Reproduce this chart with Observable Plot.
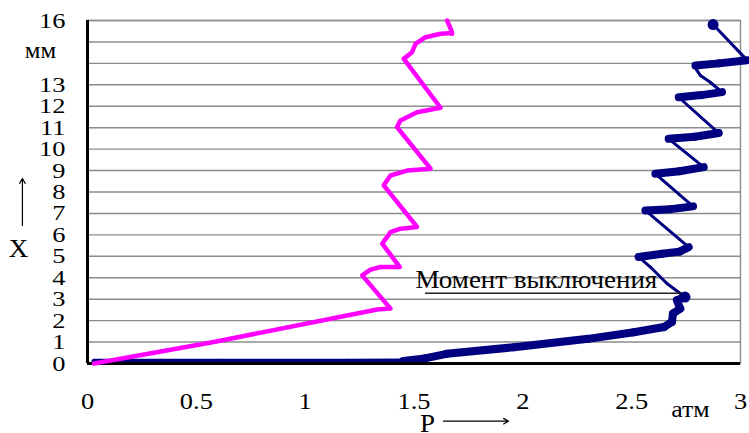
<!DOCTYPE html>
<html><head><meta charset="utf-8">
<script src="https://cdn.jsdelivr.net/npm/d3@7"></script>
<script src="https://cdn.jsdelivr.net/npm/@observablehq/plot@0.6"></script>
<style>body{margin:0;background:#fff}</style>
</head><body><div id="chart"></div>
<script>
// Magenta curve: pressure P (атм) vs displacement X (мм)
const magentaP = [0.03, 0.58, 1.331, 1.392, 1.262, 1.30, 1.346, 1.435, 1.354, 1.38, 1.392, 1.438, 1.514, 1.361, 1.392, 1.468, 1.576, 1.422, 1.438, 1.514, 1.622, 1.453, 1.491, 1.507, 1.553, 1.622, 1.66, 1.675, 1.672, 1.652];
const magentaX = [0.0, 1.0, 2.52, 2.56, 4.11, 4.38, 4.5, 4.5, 5.59, 5.95, 6.13, 6.29, 6.37, 8.31, 8.77, 9.0, 9.09, 11.03, 11.34, 11.72, 11.93, 14.21, 14.52, 14.91, 15.22, 15.38, 15.41, 15.38, 15.53, 16.0];

// Navy curve
const blueP = [0.03, 0.6, 1.2, 1.45, 1.55, 1.65, 1.96, 2.3, 2.51, 2.648, 2.685, 2.69, 2.723, 2.708, 2.745, 2.662, 2.586, 2.532, 2.64, 2.72, 2.762, 2.563, 2.68, 2.782, 2.609, 2.72, 2.831, 2.67, 2.79, 2.9, 2.716, 2.82, 2.915, 2.861, 2.816, 2.80, 2.793, 2.9, 3.03, 2.874];
const blueX = [0.1, 0.1, 0.1, 0.12, 0.24, 0.45, 0.76, 1.15, 1.46, 1.7, 1.94, 2.33, 2.56, 2.95, 3.1, 3.73, 4.5, 4.97, 5.12, 5.22, 5.43, 7.14, 7.2, 7.33, 8.85, 8.97, 9.16, 10.48, 10.58, 10.75, 12.42, 12.52, 12.66, 13.12, 13.43, 13.67, 13.9, 14.0, 14.15, 15.81];
// phase of each segment between consecutive navy points (dense "slow" samples vs fast jumps)
const bluePhase = ["rest","rest","rest","slow","slow","slow","slow","slow","slow","slow","slow","slow","slow","slow",
  "fast","fast","fast","slow","slow","slow","fast","slow","slow","fast","slow","slow","fast","slow","slow","fast","slow","slow",
  "fast","fast","fast","fast","slow","slow","fast"];
const blueMarkers = [14, 39]; // indices of emphasized points (switch-off moment, end)

const yTicks = [0,1,2,3,4,5,6,7,8,9,10,11,12,13,16];
const gridLevels = [0,1,2,3,4,5,6,7,8,9,10,11,12,13,14,15,16];
const xTicks = [0,0.5,1,1.5,2,2.5,3];

const annotText = "Момент выключения";
const annotP = [1.507, 1.553, 2.733];
const annotX = [3.51, 3.28];

const serif = "Liberation Serif";
const segs = bluePhase.map((ph, i) => ({x1: blueP[i], y1: blueX[i], x2: blueP[i+1], y2: blueX[i+1], phase: ph}));
const magenta = magentaP.map((p, i) => ({P: p, X: magentaX[i]}));
const markers = blueMarkers.map(i => ({P: blueP[i], X: blueX[i]}));
const width = {rest: 5, slow: 8, fast: 3};

const chart = Plot.plot({
  width: 749, height: 433,
  marginLeft: 87, marginRight: 9, marginTop: 20, marginBottom: 70,
  x: {domain: [0, 3]},
  y: {domain: [0, 16]},
  style: {fontFamily: serif, background: "#fff", color: "#000"},
  marks: [
    Plot.gridY(gridLevels, {stroke: "#8c8c8c", strokeOpacity: 1, strokeWidth: 1.4}),
    Plot.frame({stroke: "#8c8c8c", strokeWidth: 1.4}),
    Plot.axisY({ticks: yTicks, tickSize: 0, tickPadding: 22, fontSize: 22, tickFormat: d => String(d)}),
    Plot.axisX({ticks: xTicks, tickSize: 0, tickPadding: 29, fontSize: 23, tickFormat: d => String(d)}),
    Plot.link(segs, {x1: "x1", y1: "y1", x2: "x2", y2: "y2", stroke: "#000080", strokeWidth: d => width[d.phase], strokeLinecap: "round"}),
    Plot.dot(markers, {x: "P", y: "X", r: 5.5, fill: "#000080"}),
    Plot.ruleX([0], {stroke: "#000", strokeWidth: 3}),
    Plot.ruleY([0], {stroke: "#000", strokeWidth: 3}),
    Plot.line(magenta, {x: "P", y: "X", stroke: "#ff00ff", strokeWidth: 4.5, strokeLinejoin: "round", strokeLinecap: "round"}),
    Plot.ruleY([annotX[1]], {x1: annotP[1], x2: annotP[2], stroke: "#222", strokeWidth: 1.5}),
    Plot.text([annotText], {x: annotP[0], y: annotX[0], textAnchor: "start", lineAnchor: "bottom", fontSize: 25}),
    Plot.text(["мм"], {frameAnchor: "top-left", dx: -47, dy: 30, textAnchor: "middle", lineAnchor: "middle", fontSize: 23}),
    Plot.text(["атм"], {frameAnchor: "bottom-right", dx: -50, dy: 46, textAnchor: "middle", lineAnchor: "middle", fontSize: 24}),
    Plot.text(["P"], {frameAnchor: "bottom-left", dx: 340, dy: 60, textAnchor: "middle", lineAnchor: "middle", fontSize: 25}),
    Plot.text(["X"], {frameAnchor: "left", dx: -69, dy: 57, textAnchor: "middle", lineAnchor: "middle", fontSize: 25}),
    Plot.arrow([{x1: 1.635, x2: 1.934, y: -2.69}], {x1: "x1", x2: "x2", y1: "y", y2: "y", stroke: "#000", strokeWidth: 1.2, headLength: 7, clip: false}),
    Plot.arrow([{x: -0.299, y1: 6.44, y2: 8.63}], {x1: "x", x2: "x", y1: "y1", y2: "y2", stroke: "#000", strokeWidth: 1.2, headLength: 7, clip: false})
  ]
});
// The reference typeface is horizontally wider than Liberation Serif: widen glyphs about their anchors
const stretch = {"y-axis tick label": 1.2, "x-axis tick label": 1.15, "text": 1.08};
chart.querySelectorAll("g[aria-label]").forEach(g => {
  const s = stretch[g.getAttribute("aria-label")];
  if (!s) return;
  g.querySelectorAll("text").forEach(t => {
    const tr = t.getAttribute("transform") || "";
    t.setAttribute("transform", (tr + ` scale(${s},1)`).trim());
  });
});
document.getElementById("chart").append(chart);
</script>
</body></html>
